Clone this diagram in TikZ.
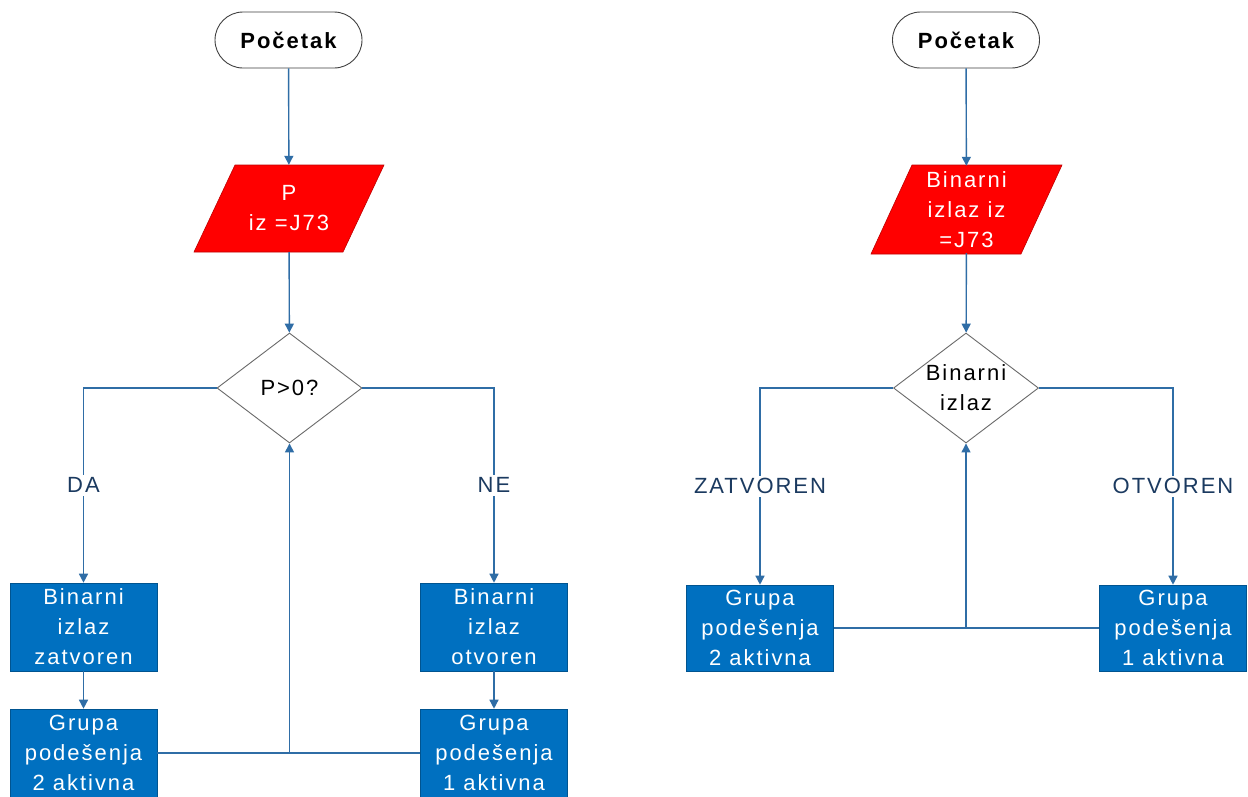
\documentclass[tikz,border=0pt]{standalone}
\usepackage{fontspec}
\setmainfont{Liberation Sans}[LetterSpace=9]
\usetikzlibrary{shapes.geometric,arrows.meta}
\definecolor{boxblue}{HTML}{0070C0}
\definecolor{linkblue}{HTML}{2F6DA6}
\definecolor{labnavy}{HTML}{1B3A60}
\definecolor{termgray}{HTML}{404040}
\definecolor{diagray}{HTML}{6A6A6A}
\begin{document}
\begin{tikzpicture}[x=1pt,y=-1pt,
  txt/.style={font=\fontsize{22}{30}\selectfont},
  term/.style={draw=termgray, fill=white, rounded corners=28pt, minimum width=147pt, minimum height=56pt, line width=0.9pt, inner sep=0pt, font=\fontsize{22}{30}\selectfont\bfseries},
  proc/.style={txt, draw=boxblue!75!black, fill=boxblue, text=white, minimum width=147pt, minimum height=88pt, align=center, inner sep=0pt, line width=0.6pt},
  dec/.style={txt, diamond, draw=diagray, fill=white, minimum width=145pt, minimum height=110pt, inner sep=0pt, align=center, line width=0.9pt},
  dectext/.style={txt, align=center, inner sep=0pt},
  io/.style={txt, minimum width=150pt, minimum height=87pt, text=white, align=center, inner sep=0pt},
  iofill/.style={fill=red, draw=red!75!black, line width=0.6pt},
  conn/.style={draw=linkblue, line width=1.4pt},
  arr/.style={conn, -{Triangle[width=9pt,length=9pt]}},
  lab/.style={txt, fill=white, text=labnavy, inner sep=3pt}
]
\useasboundingbox (0,0) rectangle (1248,796);
\fill[white] (0,0) rectangle (1248,796);

% ---------- left flowchart ----------
\node[term] (s1) at (288.5,40) {Početak};
\fill[iofill] (235,165) -- (384,165) -- (343,252) -- (194,252) -- cycle;
\node[io] (p1) at (289,208.5) {P\\iz =J73};
\node[dec] (d1) at (289.5,388) {};
\node[dectext] (d1t) at (d1.center) {P>0?};
\node[proc] (b1) at (83.5,627) {Binarni\\izlaz\\zatvoren};
\node[proc] (b2) at (494,627) {Binarni\\izlaz\\otvoren};
\node[proc] (g1) at (83.5,753) {Grupa\\podešenja\\2 aktivna};
\node[proc] (g2) at (494,753) {Grupa\\podešenja\\1 aktivna};

\draw[arr] (s1) -- (p1);
\draw[arr] (p1) -- (d1);
\draw[arr] (d1.west) -| node[lab,pos=0.75]{DA} (b1.north);
\draw[arr] (d1.east) -| node[lab,pos=0.75]{NE} (b2.north);
\draw[arr] (b1) -- (g1);
\draw[arr] (b2) -- (g2);
\coordinate (j1) at (d1.south |- g1.east);
\draw[conn] (g1.east) -- (g2.west);
\draw[arr] (j1) -- (d1.south);

% ---------- right flowchart ----------
\node[term] (s2) at (966,40) {Početak};
\fill[iofill] (912,165) -- (1062,165) -- (1021,254) -- (871,254) -- cycle;
\node[io] (p2) at (966.5,209.5) {Binarni\\izlaz iz\\=J73};
\node[dec] (d2) at (966,388) {};
\node[dectext] (d2t) at (d2.center) {Binarni\\izlaz};
\node[proc, minimum height=86pt] (g3) at (760,628) {Grupa\\podešenja\\2 aktivna};
\node[proc, minimum height=86pt] (g4) at (1173,628) {Grupa\\podešenja\\1 aktivna};

\draw[arr] (s2) -- (p2);
\draw[arr] (p2) -- (d2);
\draw[arr] (d2.west) -| node[lab,pos=0.75]{ZATVOREN} (g3.north);
\draw[arr] (d2.east) -| node[lab,pos=0.75]{OTVOREN} (g4.north);
\coordinate (j2) at (d2.south |- g3.east);
\draw[conn] (g3.east) -- (g4.west);
\draw[arr] (j2) -- (d2.south);
\end{tikzpicture}
\end{document}
